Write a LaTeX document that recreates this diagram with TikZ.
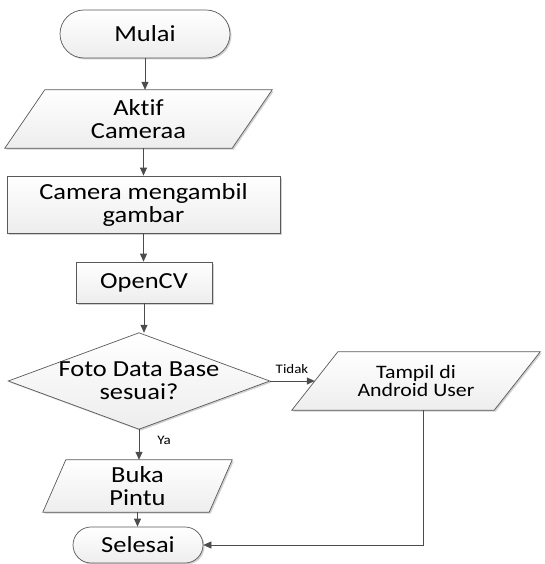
\documentclass[tikz,border=0pt]{standalone}
\usepackage{fontspec}
\setmainfont{Carlito}[FakeStretch=1.15, Ligatures=NoCommon]
\usetikzlibrary{shapes.misc,arrows.meta,backgrounds,shadows}
\begin{document}
\begin{tikzpicture}[x=1pt,y=-1pt,
  shapefill/.style={draw=black!65, line width=0.7pt, top color=white, bottom color=gray!14,
    drop shadow={shadow xshift=1.5pt, shadow yshift=-1.5pt, fill=gray!60, opacity=0.6}},
  bigtext/.style={font=\fontsize{23}{23}\selectfont, align=center, inner sep=0pt},
  midtext/.style={font=\fontsize{19}{18}\selectfont, align=center, inner sep=0pt},
  lbl/.style={font=\fontsize{13}{13}\selectfont, inner sep=0pt},
  term/.style={rounded rectangle, shapefill, bigtext},
  procbox/.style={rectangle, shapefill, bigtext},
  holder/.style={rectangle, draw=none},
  arr/.style={draw=black!70, line width=0.7pt, -{Triangle[length=8pt,width=7pt]}},
]
\useasboundingbox (0,0) rectangle (544,564);

% terminators and process boxes
\node[term, minimum width=170pt, minimum height=48pt] (mulai) at (145,34) {Mulai};
\node[procbox, minimum width=273pt, minimum height=57pt] (cam) at (143.5,204.5) {Camera mengambil\\gambar};
\node[procbox, minimum width=136pt, minimum height=41pt] (cv) at (144,282.5) {OpenCV};
\node[term, minimum width=130pt, minimum height=36pt] (sel) at (138,545) {Selesai};

% parallelograms and decision (text holders)
\node[holder, bigtext, minimum width=267pt, minimum height=58pt] (ak) at (138.5,119) {Aktif\\Cameraa};
\node[holder, bigtext, minimum width=261pt, minimum height=96pt] (dia) at (139,381) {Foto Data Base\\sesuai?};
\node[holder, midtext, minimum width=248pt, minimum height=58pt] (tp) at (416,381) {Tampil di\\Android User};
\node[holder, bigtext, minimum width=189pt, minimum height=52pt] (bk) at (137.5,486) {Buka\\Pintu};

\begin{scope}[on background layer]
  \draw[shapefill] ([xshift=40pt]ak.north west) -- (ak.north east) -- ([xshift=-40pt]ak.south east) -- (ak.south west) -- cycle;
  \draw[shapefill] (dia.north) -- (dia.east) -- (dia.south) -- (dia.west) -- cycle;
  \draw[shapefill] ([xshift=46pt]tp.north west) -- (tp.north east) -- ([xshift=-46pt]tp.south east) -- (tp.south west) -- cycle;
  \draw[shapefill] ([xshift=23pt]bk.north west) -- (bk.north east) -- ([xshift=-23pt]bk.south east) -- (bk.south west) -- cycle;
\end{scope}

\coordinate (tpw) at ([xshift=23pt]tp.west);
\coordinate (tpo) at ([xshift=7pt]tp.south);

% connectors
\draw[arr] (mulai.south) -- (mulai.south |- ak.north);
\draw[arr] (ak.south -| cam.north) -- (cam.north);
\draw[arr] (cam.south) -- (cam.south |- cv.north);
\draw[arr] (cv.south) -- (cv.south |- dia.north);
\draw[arr] (dia.south) -- (dia.south |- bk.north);
\draw[arr] (bk.south) -- (bk.south |- sel.north);
\draw[arr] (dia.east) -- (tpw);
\draw[arr] (tpo) |- (sel.east);

\node[lbl] (tidak) at (292,369) {Tidak};
\node[lbl] (ya) at (164,440) {Ya};
\end{tikzpicture}
\end{document}
